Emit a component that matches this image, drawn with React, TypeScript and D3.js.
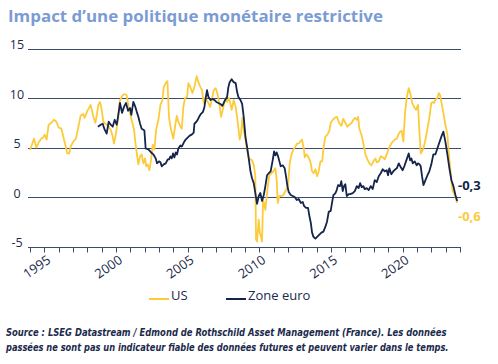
import React, { useEffect, useRef } from 'react';
import * as d3 from 'd3';

// US series (decimal year, y/y %)
const usYears = [
  1994.0, 1994.14, 1994.28, 1994.44, 1994.6, 1994.79, 1994.91, 1995.02, 1995.16, 1995.3, 1995.49, 1995.67, 1995.84,
  1996.0, 1996.19, 1996.37, 1996.51, 1996.6, 1996.74, 1996.84, 1997.02, 1997.21, 1997.35, 1997.53, 1997.7, 1997.81,
  1998.0, 1998.23, 1998.42, 1998.56, 1998.65, 1998.77, 1998.88, 1998.98, 1999.12, 1999.26, 1999.44, 1999.63, 1999.77,
  1999.86, 2000.0, 2000.14, 2000.26, 2000.42, 2000.56, 2000.74, 2000.88, 2001.07, 2001.26, 2001.33, 2001.45, 2001.56,
  2001.68, 2001.79, 2001.91, 2002.03, 2002.1, 2002.21, 2002.33, 2002.45, 2002.56, 2002.68, 2002.8, 2002.96, 2003.1,
  2003.24, 2003.33, 2003.47, 2003.59, 2003.7, 2003.84, 2004.0, 2004.12, 2004.24, 2004.35, 2004.47, 2004.59, 2004.7,
  2004.82, 2004.96, 2005.05, 2005.19, 2005.33, 2005.47, 2005.63, 2005.75, 2005.89, 2006.0, 2006.12, 2006.21, 2006.31,
  2006.45, 2006.56, 2006.68, 2006.82, 2006.96, 2007.1, 2007.24, 2007.33, 2007.45, 2007.56, 2007.66, 2007.75, 2007.89,
  2008.07, 2008.21, 2008.35, 2008.49, 2008.63, 2008.73, 2008.82, 2008.91, 2009.03, 2009.14, 2009.26, 2009.38, 2009.49,
  2009.63, 2009.72, 2009.77, 2009.84, 2009.96, 2010.03, 2010.12, 2010.19, 2010.26, 2010.33, 2010.42, 2010.49, 2010.59,
  2010.7, 2010.84, 2010.98, 2011.12, 2011.21, 2011.28, 2011.4, 2011.54, 2011.68, 2011.82, 2012.0, 2012.12, 2012.24,
  2012.38, 2012.52, 2012.63, 2012.75, 2012.86, 2012.98, 2013.1, 2013.17, 2013.28, 2013.4, 2013.56, 2013.68, 2013.79,
  2013.91, 2014.03, 2014.14, 2014.26, 2014.38, 2014.49, 2014.61, 2014.75, 2014.89, 2014.98, 2015.12, 2015.26, 2015.42,
  2015.59, 2015.72, 2015.86, 2016.0, 2016.14, 2016.28, 2016.45, 2016.56, 2016.68, 2016.8, 2016.89, 2016.98, 2017.12,
  2017.26, 2017.4, 2017.54, 2017.68, 2017.82, 2017.96, 2018.1, 2018.19, 2018.33, 2018.47, 2018.61, 2018.75, 2018.89,
  2019.03, 2019.17, 2019.31, 2019.45, 2019.59, 2019.73, 2019.82, 2019.93, 2020.05, 2020.17, 2020.28, 2020.42, 2020.56,
  2020.66, 2020.8, 2020.93, 2021.07, 2021.17, 2021.26, 2021.35, 2021.45, 2021.59, 2021.73, 2021.86, 2022.0, 2022.1,
  2022.19, 2022.28, 2022.42, 2022.52, 2022.61, 2022.7, 2022.84, 2022.98, 2023.12, 2023.21, 2023.31, 2023.4, 2023.49,
  2023.61, 2023.73, 2023.79,
];
const usValues = [
  4.75, 5.3, 5.9, 5.0, 5.5, 5.9, 6.0, 6.3, 5.8, 7.3, 7.5, 7.8, 7.6,
  7.0, 6.9, 5.8, 5.0, 4.4, 4.4, 5.1, 5.6, 5.9, 6.9, 8.2, 8.4, 8.0,
  8.7, 9.3, 8.1, 7.5, 8.2, 9.3, 9.6, 9.0, 7.6, 7.4, 7.2, 6.8, 6.1,
  5.4, 6.4, 7.8, 9.7, 10.2, 10.4, 10.3, 9.1, 7.9, 6.8, 5.8, 4.4, 3.3,
  4.1, 4.3, 3.4, 3.9, 3.1, 3.3, 2.7, 3.8, 5.3, 4.8, 6.8, 7.8, 9.3,
  9.8, 11.1, 11.5, 11.7, 8.0, 6.8, 5.9, 7.1, 8.2, 7.6, 7.2, 6.9, 9.1,
  10.0, 10.1, 11.5, 11.1, 10.5, 11.1, 12.2, 11.6, 11.1, 10.8, 9.5, 10.0, 9.8,
  9.5, 9.1, 9.8, 10.8, 11.0, 10.3, 9.1, 8.1, 8.8, 9.6, 10.0, 9.6, 10.0,
  8.8, 9.8, 9.1, 7.6, 5.8, 6.4, 8.0, 6.8, 5.8, 4.8, 3.9, 3.8, 3.7,
  3.1, 2.1, -4.3, -4.5, -2.3, -3.6, -4.0, -4.5, -0.3, -0.6, -1.3, -0.3, 1.1,
  2.2, 2.4, 2.6, 2.9, 1.7, -0.6, 0.1, 0.1, 0.2, 0.6, 1.1, 3.4, 4.3,
  4.8, 5.1, 5.4, 5.4, 5.6, 5.8, 4.9, 4.0, 4.3, 4.1, 3.6, 2.6, 2.4,
  2.8, 2.1, 2.6, 3.6, 3.6, 5.1, 6.1, 6.3, 6.7, 7.5, 7.8, 8.0, 8.1,
  7.4, 7.2, 7.9, 7.5, 7.1, 7.3, 7.5, 7.8, 8.0, 7.8, 8.1, 6.9, 6.3,
  5.4, 4.3, 3.8, 3.4, 3.2, 3.6, 3.9, 3.5, 3.6, 4.1, 4.0, 3.8, 4.3,
  4.9, 5.3, 5.6, 5.8, 5.9, 6.4, 6.6, 6.7, 5.6, 8.6, 10.0, 11.0, 10.3,
  9.5, 9.1, 8.8, 9.3, 6.6, 4.4, 4.6, 4.9, 5.8, 6.9, 8.0, 9.5, 9.6,
  9.5, 9.8, 10.0, 10.5, 10.3, 9.6, 8.5, 7.3, 6.3, 4.6, 3.1, 1.7, 0.6,
  0.3, -0.2, -0.6,
];

// Zone euro series
const euroYears = [
  1998.74, 1998.93, 1999.07, 1999.21, 1999.35, 1999.49, 1999.63, 1999.77, 1999.91, 2000.05, 2000.14, 2000.28, 2000.42,
  2000.56, 2000.7, 2000.84, 2000.98, 2001.07, 2001.21, 2001.35, 2001.45, 2001.56, 2001.68, 2001.79, 2001.91, 2001.98,
  2002.07, 2002.26, 2002.45, 2002.61, 2002.77, 2002.86, 2003.0, 2003.1, 2003.19, 2003.33, 2003.47, 2003.61, 2003.7,
  2003.8, 2003.89, 2003.98, 2004.07, 2004.17, 2004.26, 2004.35, 2004.49, 2004.59, 2004.73, 2004.86, 2005.0, 2005.14,
  2005.28, 2005.42, 2005.47, 2005.61, 2005.7, 2005.8, 2005.93, 2006.07, 2006.17, 2006.26, 2006.35, 2006.45, 2006.59,
  2006.73, 2006.86, 2007.0, 2007.14, 2007.28, 2007.42, 2007.52, 2007.61, 2007.75, 2007.84, 2007.93, 2008.07, 2008.21,
  2008.35, 2008.45, 2008.54, 2008.68, 2008.8, 2008.91, 2009.03, 2009.14, 2009.26, 2009.38, 2009.49, 2009.61, 2009.72,
  2009.84, 2009.96, 2010.07, 2010.19, 2010.31, 2010.42, 2010.54, 2010.66, 2010.79, 2010.93, 2011.03, 2011.12, 2011.21,
  2011.31, 2011.4, 2011.49, 2011.63, 2011.77, 2011.86, 2011.96, 2012.05, 2012.19, 2012.33, 2012.47, 2012.61, 2012.75,
  2012.89, 2013.03, 2013.12, 2013.26, 2013.4, 2013.49, 2013.59, 2013.68, 2013.77, 2013.91, 2014.05, 2014.19, 2014.33,
  2014.47, 2014.61, 2014.72, 2014.84, 2014.98, 2015.07, 2015.17, 2015.31, 2015.4, 2015.49, 2015.63, 2015.72, 2015.82,
  2015.91, 2016.0, 2016.1, 2016.24, 2016.33, 2016.52, 2016.66, 2016.8, 2016.93, 2017.03, 2017.14, 2017.26, 2017.35,
  2017.49, 2017.63, 2017.77, 2017.91, 2018.05, 2018.19, 2018.33, 2018.47, 2018.61, 2018.75, 2018.89, 2018.98, 2019.07,
  2019.21, 2019.35, 2019.49, 2019.59, 2019.73, 2019.87, 2020.0, 2020.14, 2020.28, 2020.42, 2020.52, 2020.61, 2020.7,
  2020.84, 2020.98, 2021.07, 2021.17, 2021.26, 2021.35, 2021.45, 2021.59, 2021.73, 2021.86, 2022.0, 2022.14, 2022.28,
  2022.42, 2022.56, 2022.7, 2022.84, 2022.98, 2023.12, 2023.26, 2023.4, 2023.54, 2023.68, 2023.8,
];
const euroValues = [
  7.1, 7.3, 7.4, 6.8, 6.4, 7.6, 7.3, 7.1, 7.8, 7.3, 8.1, 9.5, 8.5,
  9.1, 9.5, 8.7, 9.0, 8.3, 9.6, 9.1, 8.6, 8.1, 7.4, 6.9, 6.8, 6.7,
  4.9, 4.8, 4.5, 4.3, 3.9, 3.4, 3.6, 3.5, 3.1, 3.3, 3.4, 3.8, 3.8,
  4.1, 3.9, 4.4, 4.0, 4.5, 4.3, 4.9, 5.2, 5.1, 5.5, 5.8, 6.0, 6.2,
  6.3, 6.5, 7.4, 7.6, 7.8, 8.1, 8.4, 8.6, 9.1, 10.0, 10.8, 10.1, 9.8,
  9.9, 9.8, 9.6, 9.5, 9.4, 9.2, 9.5, 9.8, 10.1, 11.1, 11.6, 11.9, 11.6,
  11.5, 10.6, 10.1, 9.8, 9.4, 8.1, 6.1, 5.1, 3.9, 2.6, 1.9, 1.4, 0.4,
  -0.7, 0.1, 0.4, -0.4, 0.2, 1.1, 2.2, 2.4, 2.6, 3.7, 4.6, 4.2, 4.5,
  4.1, 3.6, 3.1, 3.2, 2.9, 2.1, 1.1, 0.5, 0.2, 0.1, 0.0, -0.3, -0.2,
  -0.6, -0.5, -0.9, -1.1, -1.1, -1.9, -2.6, -3.6, -4.0, -4.2, -4.0, -3.8, -3.6,
  -3.5, -3.0, -2.5, -1.5, -1.4, -0.6, 0.2, 0.4, 0.7, 1.2, 1.1, 1.6, 0.6,
  1.1, 1.3, 0.1, 0.3, 0.3, 0.4, 0.6, 1.1, 0.9, 1.4, 1.0, 1.1, 0.8,
  0.9, 0.7, 1.1, 0.8, 1.7, 1.5, 2.1, 2.4, 2.8, 2.6, 2.7, 2.2, 2.9,
  2.3, 2.6, 2.8, 2.9, 3.4, 3.0, 2.7, 3.2, 3.8, 4.4, 3.7, 3.9, 3.4,
  3.6, 3.2, 3.4, 3.3, 3.1, 2.1, 1.2, 1.7, 2.2, 2.6, 3.3, 4.3, 4.3,
  4.9, 5.5, 6.1, 6.6, 5.6, 4.3, 2.9, 1.7, 1.1, 0.2, -0.4,
];

const yTicks = [-5, 0, 5, 10, 15];
const yearTicks = d3.range(1994, 2025);
const yearLabels = [1995, 2000, 2005, 2010, 2015, 2020];

const US_COLOR = '#fccb3c';
const EURO_COLOR = '#14244a';
const GRID_COLOR = '#3c4c6b';
const TEXT_COLOR = '#1b2a4b';
const FONT = "'Open Sans', 'DejaVu Sans', sans-serif";

const App = () => {
  const svgRef = useRef<SVGSVGElement | null>(null);

  useEffect(() => {
    const svg = d3.select(svgRef.current);
    svg.selectAll('*').remove();

    const x = d3.scaleLinear().domain([1994, 2024]).range([30, 460]);
    const y = d3.scaleLinear().domain([-5, 15]).range([246.5, 48.5]);

    // Title
    svg.append('text')
      .attr('x', 8)
      .attr('y', 21.5)
      .attr('fill', '#7b9bd3')
      .style('font-family', FONT)
      .style('font-size', '16.5px')
      .style('font-weight', 'bold')
      .attr('textLength', 375)
      .attr('lengthAdjust', 'spacingAndGlyphs')
      .text('Impact d\u2019une politique monétaire restrictive');

    // Horizontal grid lines (bottom one doubles as the axis)
    svg.append('g')
      .selectAll('line')
      .data(yTicks)
      .enter().append('line')
      .attr('x1', 28)
      .attr('x2', 461)
      .attr('y1', d => Math.round(y(d)) + 0.5)
      .attr('y2', d => Math.round(y(d)) + 0.5)
      .attr('stroke', GRID_COLOR)
      .attr('stroke-width', 1);

    // Y labels sit on their grid line
    svg.append('g')
      .selectAll('text')
      .data(yTicks)
      .enter().append('text')
      .attr('x', 17)
      .attr('y', d => y(d) + 0.5)
      .attr('text-anchor', 'middle')
      .attr('fill', TEXT_COLOR)
      .style('font-family', FONT)
      .style('font-size', '12.5px')
      .text(d => String(d));

    const axisY = Math.round(y(-5)) + 0.5;

    // Year ticks
    svg.append('g')
      .selectAll('line')
      .data(yearTicks)
      .enter().append('line')
      .attr('x1', d => Math.round(x(d)) + 0.5)
      .attr('x2', d => Math.round(x(d)) + 0.5)
      .attr('y1', axisY)
      .attr('y2', axisY + 5)
      .attr('stroke', GRID_COLOR)
      .attr('stroke-width', 1);

    // Rotated year labels
    svg.append('g')
      .selectAll('text')
      .data(yearLabels)
      .enter().append('text')
      .attr('transform', d => `translate(${x(d) + 2},${axisY + 7}) rotate(-35)`)
      .attr('text-anchor', 'end')
      .attr('dy', '0.7em')
      .attr('fill', TEXT_COLOR)
      .style('font-family', FONT)
      .style('font-size', '13px')
      .text(d => String(d));

    const line = d3.line<[number, number]>()
      .x(d => x(d[0]))
      .y(d => y(d[1]));

    const usData = usYears.map((yr, i) => [yr, usValues[i]] as [number, number]);
    const euroData = euroYears.map((yr, i) => [yr, euroValues[i]] as [number, number]);

    svg.append('path')
      .datum(usData)
      .attr('fill', 'none')
      .attr('stroke', US_COLOR)
      .attr('stroke-width', 1.8)
      .attr('stroke-linejoin', 'round')
      .attr('d', line);

    svg.append('path')
      .datum(euroData)
      .attr('fill', 'none')
      .attr('stroke', EURO_COLOR)
      .attr('stroke-width', 1.8)
      .attr('stroke-linejoin', 'round')
      .attr('d', line);

    // End labels
    svg.append('text')
      .attr('x', 458)
      .attr('y', 189.5)
      .attr('fill', EURO_COLOR)
      .style('font-family', FONT)
      .style('font-size', '13px')
      .style('font-weight', 'bold')
      .text('-0,3');

    svg.append('text')
      .attr('x', 458)
      .attr('y', 221)
      .attr('fill', US_COLOR)
      .style('font-family', FONT)
      .style('font-size', '13px')
      .style('font-weight', 'bold')
      .text('-0,6');

    // Legend
    const legend = [
      { label: 'US', color: US_COLOR, x: 149 },
      { label: 'Zone euro', color: EURO_COLOR, x: 226 },
    ];
    const lg = svg.append('g');
    legend.forEach(item => {
      lg.append('line')
        .attr('x1', item.x)
        .attr('x2', item.x + 20)
        .attr('y1', 299)
        .attr('y2', 299)
        .attr('stroke', item.color)
        .attr('stroke-width', 2);
      lg.append('text')
        .attr('x', item.x + 22)
        .attr('y', 300)
        .attr('fill', TEXT_COLOR)
        .style('font-family', FONT)
        .style('font-size', '13px')
        .text(item.label);
    });

    // Source note: condensed by squeezing the group horizontally to the measured width
    const source = [
      { text: 'Source : LSEG Datastream / Edmond de Rothschild Asset Management (France). Les données', y: 335.5, w: 441 },
      { text: 'passées ne sont pas un indicateur fiable des données futures et peuvent varier dans le temps.', y: 350.5, w: 443 },
    ];
    source.forEach(s => {
      const g = svg.append('g');
      const t = g.append('text')
        .attr('x', 0)
        .attr('y', 0)
        .attr('fill', TEXT_COLOR)
        .style('font-family', "'Liberation Sans Narrow', 'DejaVu Sans Condensed', sans-serif")
        .style('font-size', '11px')
        .style('font-style', 'italic')
        .style('font-weight', 'bold')
        .text(s.text);
      const natural = (t.node() as SVGTextElement).getComputedTextLength() || s.w;
      g.attr('transform', `translate(6,${s.y}) scale(${s.w / natural},1)`);
    });
  }, []);

  return (
    <div style={{ position: 'absolute', left: 0, top: 0 }}>
      <svg ref={svgRef} width={498} height={364} style={{ display: 'block', background: '#fff' }} />
    </div>
  );
};

export default App;
